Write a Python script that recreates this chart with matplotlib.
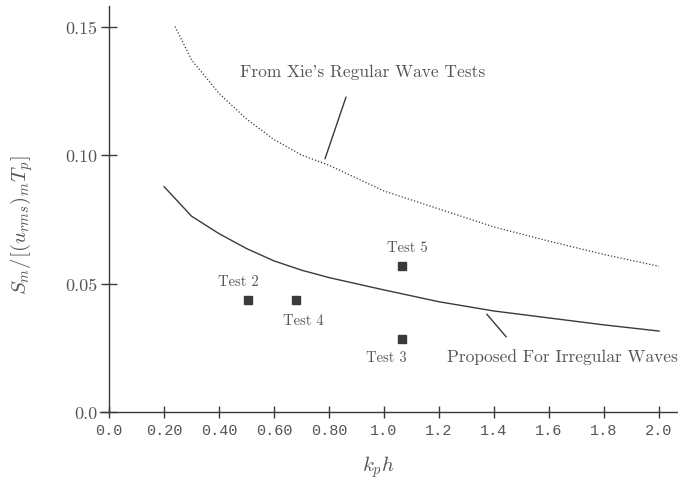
import matplotlib
matplotlib.use('Agg')
import matplotlib.pyplot as plt

plt.rcParams['mathtext.fontset'] = 'cm'

# curve from Xie's regular wave tests (dotted)
xie_kh = [0.24, 0.30, 0.40, 0.50, 0.60, 0.70, 0.80, 0.90, 1.00, 1.20, 1.40, 1.60, 1.80, 2.00]
xie_s = [0.150, 0.137, 0.124, 0.114, 0.106, 0.100, 0.096, 0.091, 0.086, 0.079, 0.072, 0.0665, 0.0613, 0.0567]

# proposed curve for irregular waves (solid)
irr_kh = [0.20, 0.30, 0.40, 0.50, 0.60, 0.70, 0.80, 0.90, 1.00, 1.20, 1.40, 1.60, 1.80, 2.00]
irr_s = [0.0877, 0.0762, 0.0694, 0.0636, 0.0588, 0.0552, 0.0523, 0.0499, 0.0475, 0.0429, 0.0393, 0.0366, 0.0339, 0.0315]

# test points
test_names = ['Test 2', 'Test 4', 'Test 5', 'Test 3']
test_kh = [0.506, 0.68, 1.065, 1.065]
test_s = [0.0435, 0.0435, 0.0567, 0.0284]
label_offsets = [(-7, 14), (5, -14), (4, 14), (-11, -13)]

xticks = [0.0, 0.2, 0.4, 0.6, 0.8, 1.0, 1.2, 1.4, 1.6, 1.8, 2.0]
xtick_labels = ['0.0', '0.20', '0.40', '0.60', '0.80', '1.0', '1.2', '1.4', '1.6', '1.8', '2.0']
yticks = [0.0, 0.05, 0.10, 0.15]
ytick_labels = ['0.0', '0.05', '0.10', '0.15']

ink = '#3a3a3a'
txt = '#555555'

fig = plt.figure(figsize=(6.78, 4.81), dpi=100)
ax = fig.add_axes([100 / 678, 68 / 481, 578 / 678, 406 / 481])

ax.plot(xie_kh, xie_s, color=ink, lw=0.9, linestyle=(0, (1, 1.6)))
ax.plot(irr_kh, irr_s, color=ink, lw=1.0)
ax.plot(test_kh, test_s, 's', color=ink, markersize=5.5, linestyle='none')

for name, x, y, off in zip(test_names, test_kh, test_s, label_offsets):
    ax.annotate(name, (x, y), xytext=off, textcoords='offset points',
                ha='center', va='center', fontsize=10.5, family='cmr10', color=txt)

ax.annotate('', xy=(0.782, 0.0975), xytext=(0.865, 0.1236),
            arrowprops=dict(arrowstyle='-', color=ink, lw=1.0))
ax.text(0.476, 0.1325, "From Xie's Regular Wave Tests", fontsize=12.5,
        family='cmr10', color=txt, va='center', ha='left')

ax.annotate('', xy=(1.367, 0.0389), xytext=(1.451, 0.0284),
            arrowprops=dict(arrowstyle='-', color=ink, lw=1.0))
ax.text(1.229, 0.0218, 'Proposed For Irregular Waves', fontsize=12.5,
        family='cmr10', color=txt, va='center', ha='left', clip_on=False)

ax.set_xlim(-0.033, 2.069)
ax.set_ylim(0, 0.158)
ax.spines['left'].set_position(('data', 0))
ax.spines['right'].set_visible(False)
ax.spines['top'].set_visible(False)
for s in ['left', 'bottom']:
    ax.spines[s].set_color(ink)
    ax.spines[s].set_linewidth(1.0)

ax.set_xticks(xticks)
ax.set_xticklabels(xtick_labels, family='Liberation Mono', fontsize=11, color=txt)
ax.set_yticks(yticks)
ax.set_yticklabels(ytick_labels, family='cmr10', fontsize=13, color=txt)
ax.tick_params(axis='x', direction='inout', length=8, width=1, color=ink, pad=4)
ax.tick_params(axis='y', direction='inout', length=11, width=1, color=ink, pad=3)

ax.set_xlabel(r'$k_p h$', fontsize=15, color=txt, va='center')
ax.xaxis.set_label_coords(0.481, -0.133)
ax.set_ylabel(r'$S_m/[(u_{rms})_m T_p]$', fontsize=15, color=txt, va='center')
ax.yaxis.set_label_coords(-0.135, 0.463)

fig.savefig('out.png', dpi=100)
